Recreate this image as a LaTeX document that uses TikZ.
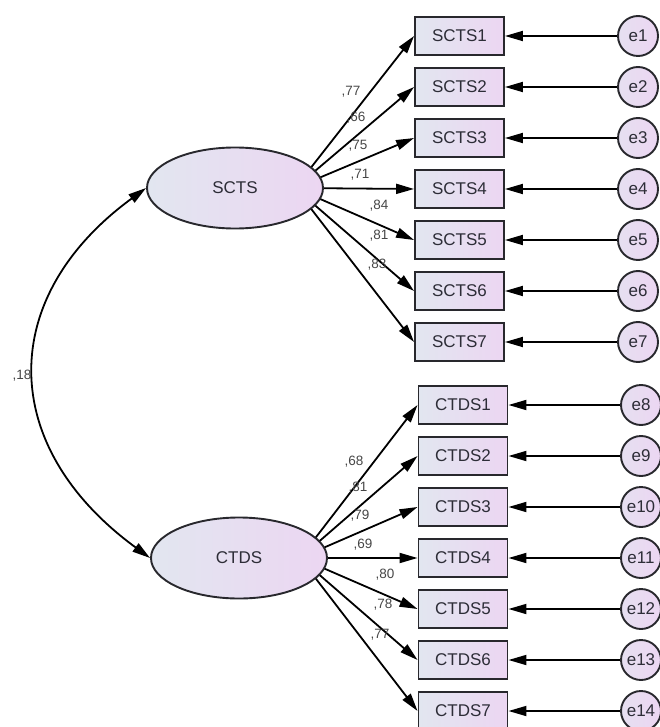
\documentclass[tikz,border=0pt]{standalone}
\usepackage{fontspec}
\setmainfont{Liberation Sans}
\usetikzlibrary{arrows.meta,shapes.geometric}
\definecolor{edgec}{RGB}{40,40,45}
\definecolor{txtc}{RGB}{45,45,55}
\definecolor{labc}{RGB}{70,70,70}
\definecolor{fillL}{RGB}{226,230,240}
\definecolor{fillR}{RGB}{236,214,242}
\tikzset{
  obs/.style={rectangle, draw=edgec, line width=1.9pt, left color=fillL, right color=fillR,
    minimum width=89pt, minimum height=38pt, inner sep=0pt, text=txtc, font=\fontsize{17}{19}\selectfont},
  lat/.style={ellipse, draw=edgec, line width=1.9pt, left color=fillL, right color=fillR,
    minimum width=176pt, minimum height=81pt, inner sep=0pt, text=txtc, font=\fontsize{17}{19}\selectfont},
  err/.style={circle, draw=edgec, line width=1.9pt, left color=fillL!60!fillR, right color=fillR,
    minimum size=40pt, inner sep=0pt, text=txtc, font=\fontsize{17}{19}\selectfont},
  path/.style={draw=black, line width=1.8pt, -{Triangle[length=18pt,width=10pt]}},
  cov/.style={draw=black, line width=1.8pt, {Triangle[length=18pt,width=10pt]}-{Triangle[length=18pt,width=10pt]}},
  lab/.style={text=labc, font=\fontsize{13.5}{15}\selectfont, inner sep=0pt}
}
\begin{document}
\begin{tikzpicture}[x=1pt,y=1pt]
\useasboundingbox (0,0) rectangle (659,-727);
% hubs inside the latent ellipses
\coordinate (hS) at (295,-188);
\coordinate (hC) at (300,-558);
% SCTS indicators
\foreach \i in {1,...,7}{
  \pgfmathsetmacro{\yy}{-(36+51*(\i-1))}
  \node[obs] (s\i) at (459.5,\yy) {SCTS\i};
  \node[err] (e\i) at (638,\yy) {e\i};
  \draw[path] (e\i) -- (s\i);
  \draw[path] (hS) -- (s\i.west);
}
% CTDS indicators
\foreach \i [evaluate=\i as \j using int(\i+7)] in {1,...,7}{
  \pgfmathsetmacro{\yy}{-(405+51*(\i-1))}
  \node[obs] (c\i) at (463,\yy) {CTDS\i};
  \node[err] (e\j) at (641,\yy) {e\j};
  \draw[path] (e\j) -- (c\i);
  \draw[path] (hC) -- (c\i.west);
}
% latent variables (on top of the arrow starts)
\node[lat] (SCTS) at (235,-188) {SCTS};
\node[lat] (CTDS) at (239,-558) {CTDS};
% covariance
\draw[cov] (SCTS.west) .. controls (-3,-297) and (-3,-446) .. (CTDS.west);
\node[lab] (r) at (22,-376) {,18};
% loadings SCTS
\node[lab] (l1) at (351,-92) {,77};
\node[lab] (l2) at (356,-118) {,66};
\node[lab] (l3) at (358,-146) {,75};
\node[lab] (l4) at (360,-175) {,71};
\node[lab] (l5) at (379,-206) {,84};
\node[lab] (l6) at (379,-236) {,81};
\node[lab] (l7) at (377,-265) {,83};
% loadings CTDS
\node[lab] (m1) at (354,-462) {,68};
\node[lab] (m2) at (358,-488) {,81};
\node[lab] (m3) at (360,-516) {,79};
\node[lab] (m4) at (363,-545) {,69};
\node[lab] (m5) at (385,-575) {,80};
\node[lab] (m6) at (383,-605) {,78};
\node[lab] (m7) at (380,-635) {,77};
\end{tikzpicture}
\end{document}
